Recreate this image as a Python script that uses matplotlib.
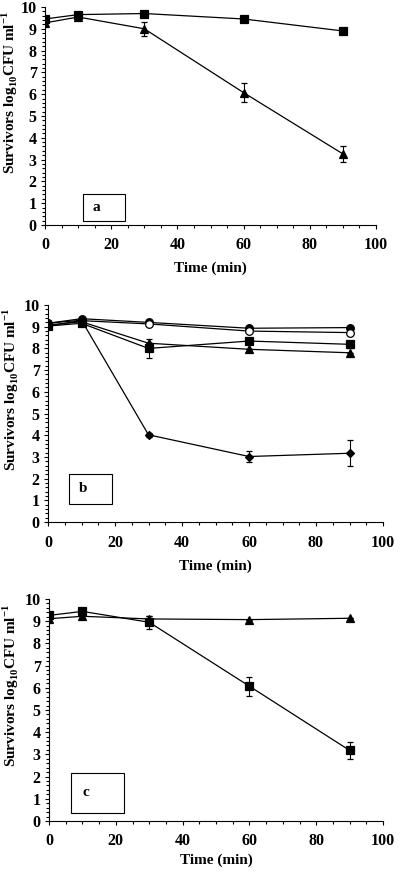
import matplotlib
matplotlib.use("Agg")
import matplotlib.pyplot as plt
from matplotlib.patches import Rectangle
from matplotlib.ticker import MultipleLocator

plt.rcParams["font.family"] = ["Liberation Serif", "DejaVu Serif"]
plt.rcParams["font.weight"] = "bold"
plt.rcParams["mathtext.fontset"] = "custom"
plt.rcParams["mathtext.rm"] = "Liberation Serif:bold"
plt.rcParams["mathtext.bf"] = "Liberation Serif:bold"

time = [0, 10, 30, 60, 90]

# panel a
a_square = [9.45, 9.65, 9.7, 9.45, 8.9]
a_square_err = [0, 0, 0, 0, 0]
a_tri = [9.27, 9.54, 9.0, 6.07, 3.26]
a_tri_err = [0, 0, 0.32, 0.45, 0.37]

# panel b
b_circle = [9.16, 9.37, 9.2, 8.93, 8.96]
b_circle_err = [0, 0, 0, 0, 0]
b_open = [9.03, 9.28, 9.13, 8.8, 8.73]
b_open_err = [0, 0, 0, 0, 0.1]
b_square = [9.03, 9.16, 8.0, 8.34, 8.19]
b_square_err = [0, 0, 0.43, 0.15, 0.15]
b_tri = [9.08, 9.23, 8.24, 7.96, 7.8]
b_tri_err = [0, 0, 0, 0, 0]
b_diamond = [9.16, 9.3, 4.02, 3.02, 3.17]
b_diamond_err = [0, 0, 0.1, 0.27, 0.6]

# panel c
c_square = [9.26, 9.44, 8.95, 6.07, 3.18]
c_square_err = [0, 0, 0.3, 0.42, 0.37]
c_tri = [9.11, 9.22, 9.1, 9.07, 9.13]
c_tri_err = [0, 0, 0.15, 0, 0]

# label, axes rect, label box (x, y, w, h), xlabel y, ylabel x, series
panels = [
    ("a", [0.1125, 0.7423, 0.8275, 0.2497], (11.5, 0.18, 12.7, 1.24), -0.197, -0.10,
     [(a_square, a_square_err, "s", "k"), (a_tri, a_tri_err, "^", "k")]),
    ("b", [0.12, 0.402, 0.8375, 0.2486], (6.3, 0.83, 12.8, 1.39), -0.203, -0.105,
     [(b_circle, b_circle_err, "o", "k"), (b_open, b_open_err, "o", "w"),
      (b_square, b_square_err, "s", "k"), (b_tri, b_tri_err, "^", "k"),
      (b_diamond, b_diamond_err, "D", "k")]),
    ("c", [0.1225, 0.0596, 0.835, 0.2543], (6.6, 0.35, 15.9, 1.83), -0.176, -0.109,
     [(c_square, c_square_err, "s", "k"), (c_tri, c_tri_err, "^", "k")]),
]

fig = plt.figure(figsize=(4, 8.73), dpi=100)

for label, pos, box, xl_y, yl_x, series in panels:
    ax = fig.add_axes(pos)
    for vals, err, marker, face in series:
        ms = 4.5 if marker == "D" else 5.5
        ax.errorbar(time, vals, yerr=err, color="k", lw=0.9, marker=marker,
                    ms=ms, mfc=face, mec="k", mew=0.9, capsize=2, elinewidth=0.8)
    bx, by, bw, bh = box
    ax.add_patch(Rectangle((bx, by), bw, bh, fill=False, lw=0.8, ec="k"))
    ax.text(bx + 0.22 * bw, by + bh / 2, label, fontsize=11, fontweight="bold",
            va="center", ha="left")
    ax.set_xlim(0, 100)
    ax.set_ylim(0, 10)
    ax.xaxis.set_major_locator(MultipleLocator(20))
    ax.xaxis.set_minor_locator(MultipleLocator(5))
    ax.yaxis.set_major_locator(MultipleLocator(1))
    ax.yaxis.set_minor_locator(MultipleLocator(0.2))
    ax.tick_params(which="both", direction="out", labelsize=11.5, width=0.8)
    ax.tick_params(which="major", length=3)
    ax.tick_params(which="minor", length=2)
    ax.tick_params(axis="x", pad=6)
    ax.tick_params(axis="y", pad=3)
    for lab in ax.get_xticklabels() + ax.get_yticklabels():
        lab.set_fontweight("bold")
    ax.spines["top"].set_visible(False)
    ax.spines["right"].set_visible(False)
    ax.set_xlabel("Time (min)", fontsize=11, fontweight="bold", va="center")
    ax.xaxis.set_label_coords(0.5, xl_y)
    ax.set_ylabel(r"Survivors log$_{10}$CFU ml$^{-1}$", fontsize=11,
                  fontweight="bold", va="center")
    ax.yaxis.set_label_coords(yl_x - 0.005, 0.61)

fig.savefig("out.png", dpi=100)
